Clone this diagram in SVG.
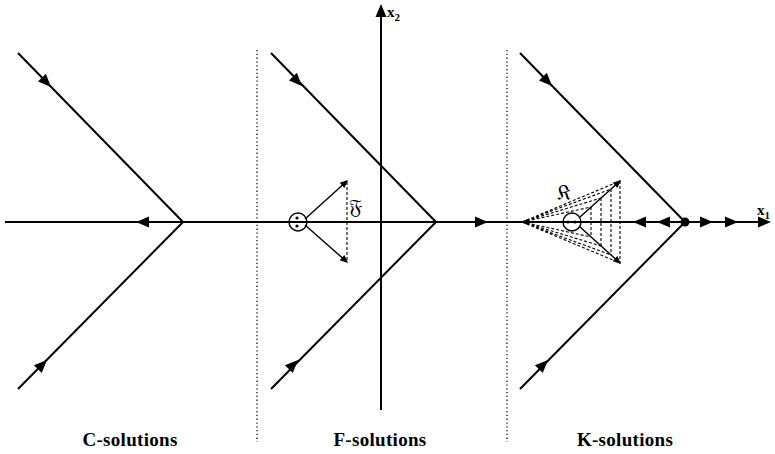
<svg xmlns="http://www.w3.org/2000/svg" xmlns:xlink="http://www.w3.org/1999/xlink" width="775" height="454" viewBox="0 0 775 454">
<style>
.ln{stroke:#000;stroke-width:2;fill:none}
.thin{stroke:#000;stroke-width:1.4;fill:none}
.dash{stroke:#000;stroke-width:1.1;stroke-dasharray:3 2;fill:none}
.dot{stroke:#000;stroke-width:1.2;stroke-dasharray:1.3 2.5;fill:none}
.lbl{font-family:"Liberation Serif",serif;font-size:19px;font-weight:bold;letter-spacing:0.3px;fill:#000}
.ax{font-family:"Liberation Serif",serif;font-size:15px;font-weight:bold;fill:#000}
.frak{font-family:"DejaVu Serif","DejaVu Sans","Noto Sans",serif;font-size:21px;fill:#000}
</style>
<defs>
<path id="ah" d="M0,0 L-13,-5.5 L-13,5.5 Z" fill="#000"/>
<path id="ahs" d="M0,0 L-8,-3.5 L-8,3.5 Z" fill="#000"/>
</defs>
<rect width="775" height="454" fill="#fff"/>

<g id="separators">
<line class="dot" x1="257" y1="50" x2="257" y2="442"/>
<line class="dot" x1="507" y1="50" x2="507" y2="442"/>
</g>

<g id="axes">
<line class="ln" x1="5" y1="222" x2="762" y2="222"/>
<use xlink:href="#ah" transform="translate(771,222)"/>
<text class="ax" x="757" y="215">x<tspan font-size="11" dy="4">1</tspan></text>
<line class="ln" x1="381" y1="410" x2="381" y2="14"/>
<use xlink:href="#ah" transform="translate(381,4) rotate(-90)"/>
<text class="ax" x="387" y="17">x<tspan font-size="11" dy="4">2</tspan></text>
</g>

<g id="C-solutions">
<line class="ln" x1="18" y1="53" x2="183" y2="222"/>
<line class="ln" x1="183" y1="222" x2="18" y2="389"/>
<use xlink:href="#ah" transform="translate(51,87) rotate(45.7)"/>
<use xlink:href="#ah" transform="translate(47,360) rotate(-45.3)"/>
<use xlink:href="#ah" transform="translate(136,222) rotate(180)"/>
<text class="lbl" x="130" y="446" text-anchor="middle">C-solutions</text>
</g>

<g id="F-solutions">
<line class="ln" x1="271" y1="53" x2="436" y2="222"/>
<line class="ln" x1="436" y1="222" x2="271" y2="389"/>
<use xlink:href="#ah" transform="translate(302,86) rotate(45.7)"/>
<use xlink:href="#ah" transform="translate(298,360) rotate(-45.3)"/>
<use xlink:href="#ah" transform="translate(488,222)"/>
<circle class="thin" cx="298" cy="222" r="9"/>
<circle cx="297" cy="218" r="1.6" fill="#000"/>
<circle cx="297" cy="226" r="1.6" fill="#000"/>
<line class="thin" x1="305" y1="219" x2="347" y2="181"/>
<line class="thin" x1="305" y1="225" x2="347" y2="262"/>
<use xlink:href="#ahs" transform="translate(348,180) rotate(-42)"/>
<use xlink:href="#ahs" transform="translate(348,263) rotate(42)"/>
<line class="dash" x1="347" y1="182" x2="347" y2="261"/>
<text class="frak" x="349" y="214">𝔉</text>
<text class="lbl" x="380" y="446" text-anchor="middle">F-solutions</text>
</g>

<g id="K-solutions">
<line class="ln" x1="520" y1="53" x2="685" y2="222"/>
<line class="ln" x1="685" y1="222" x2="520" y2="389"/>
<use xlink:href="#ah" transform="translate(552,86) rotate(45.7)"/>
<use xlink:href="#ah" transform="translate(548,360) rotate(-45.3)"/>
<circle cx="685" cy="222" r="4.5" fill="#000"/>
<use xlink:href="#ah" transform="translate(633,222) rotate(180)"/>
<use xlink:href="#ah" transform="translate(657,222) rotate(180)"/>
<use xlink:href="#ah" transform="translate(713,222)"/>
<use xlink:href="#ah" transform="translate(738,222)"/>
<use xlink:href="#ahs" transform="translate(521,222) rotate(180)"/>
<circle class="thin" cx="572" cy="222" r="9"/>
<circle cx="568" cy="222" r="1.6" fill="#000"/>
<circle cx="575" cy="222" r="1.6" fill="#000"/>
<line class="thin" x1="580" y1="217" x2="620" y2="181"/>
<line class="thin" x1="580" y1="227" x2="620" y2="263"/>
<use xlink:href="#ahs" transform="translate(621,180) rotate(-42)"/>
<use xlink:href="#ahs" transform="translate(621,264) rotate(42)"/>
<path class="dash" d="M522,222 L620,181 M522,222 L611,189 M522,222 L601,198 M522,222 L591,207 M522,222 L620,263 M522,222 L611,255 M522,222 L601,246 M522,222 L591,237 M620,181 V263 M611,189 V255 M601,198 V246 M591,207 V237"/>
<text class="frak" x="557" y="200">𝔎</text>
<text class="lbl" x="625" y="446" text-anchor="middle">K-solutions</text>
</g>
</svg>
